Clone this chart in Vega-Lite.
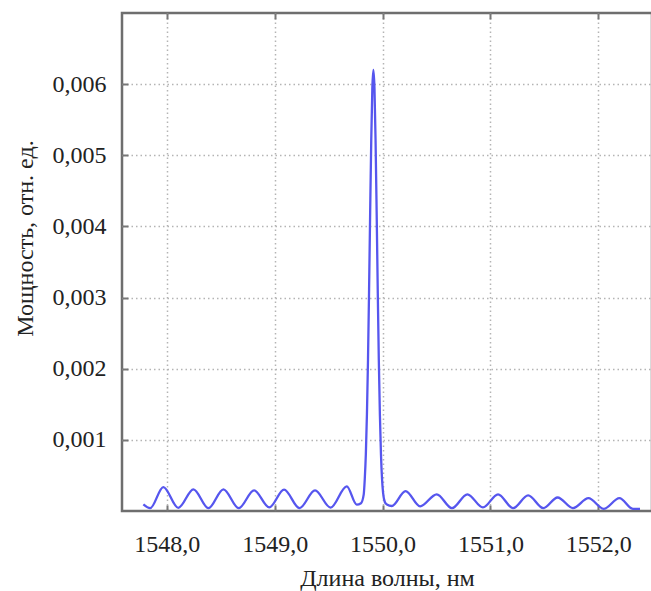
{
  "$schema": "https://vega.github.io/schema/vega-lite/v6.json",
  "width": 530,
  "height": 498,
  "autosize": "none",
  "padding": {"left": 122, "top": 13, "right": 0, "bottom": 80},
  "background": "white",
  "config": {
    "view": {"stroke": "#6e6e6e", "strokeWidth": 2.5},
    "font": "Liberation Serif, serif"
  },
  "data": {
    "values": [
      {"wl": 1547.783, "p": 0.000094},
      {"wl": 1547.846, "p": 0.00004},
      {"wl": 1547.968, "p": 0.000337},
      {"wl": 1548.107, "p": 0.000045},
      {"wl": 1548.247, "p": 0.000305},
      {"wl": 1548.386, "p": 0.00004},
      {"wl": 1548.525, "p": 0.000305},
      {"wl": 1548.667, "p": 0.00004},
      {"wl": 1548.809, "p": 0.00029},
      {"wl": 1548.95, "p": 0.00005},
      {"wl": 1549.087, "p": 0.0003},
      {"wl": 1549.23, "p": 0.00004},
      {"wl": 1549.374, "p": 0.00029},
      {"wl": 1549.518, "p": 0.000048},
      {"wl": 1549.668, "p": 0.000347},
      {"wl": 1549.76, "p": 0.00009},
      {"wl": 1549.8, "p": 0.00011},
      {"wl": 1549.825, "p": 0.00023},
      {"wl": 1549.835, "p": 0.00045},
      {"wl": 1549.845, "p": 0.0008},
      {"wl": 1549.855, "p": 0.00136},
      {"wl": 1549.865, "p": 0.00213},
      {"wl": 1549.875, "p": 0.00312},
      {"wl": 1549.885, "p": 0.00421},
      {"wl": 1549.895, "p": 0.00521},
      {"wl": 1549.905, "p": 0.00594},
      {"wl": 1549.915, "p": 0.0062},
      {"wl": 1549.925, "p": 0.00594},
      {"wl": 1549.935, "p": 0.00521},
      {"wl": 1549.945, "p": 0.00421},
      {"wl": 1549.955, "p": 0.00312},
      {"wl": 1549.965, "p": 0.00213},
      {"wl": 1549.975, "p": 0.00136},
      {"wl": 1549.985, "p": 0.0008},
      {"wl": 1549.995, "p": 0.00045},
      {"wl": 1550.005, "p": 0.00025},
      {"wl": 1550.02, "p": 0.00013},
      {"wl": 1550.04, "p": 0.00009},
      {"wl": 1550.085, "p": 0.00007},
      {"wl": 1550.213, "p": 0.00028},
      {"wl": 1550.348, "p": 0.000066},
      {"wl": 1550.502, "p": 0.000235},
      {"wl": 1550.643, "p": 0.00004},
      {"wl": 1550.786, "p": 0.000235},
      {"wl": 1550.93, "p": 0.00005},
      {"wl": 1551.07, "p": 0.000235},
      {"wl": 1551.21, "p": 0.00004},
      {"wl": 1551.349, "p": 0.00022},
      {"wl": 1551.49, "p": 0.00004},
      {"wl": 1551.622, "p": 0.00019},
      {"wl": 1551.765, "p": 0.00004},
      {"wl": 1551.908, "p": 0.00018},
      {"wl": 1552.05, "p": 0.00003},
      {"wl": 1552.195, "p": 0.00018},
      {"wl": 1552.32, "p": 0.00003},
      {"wl": 1552.386, "p": 0.00003}
    ]
  },
  "layer": [
    {
      "mark": {"type": "line", "interpolate": "monotone", "color": "#5656ee", "strokeWidth": 2.3},
      "encoding": {
        "x": {
          "field": "wl", "type": "quantitative",
          "scale": {"domain": [1547.585, 1552.497], "nice": false, "zero": false},
          "axis": {
            "values": [1548, 1549, 1550, 1551, 1552],
            "labelExpr": "replace(format(datum.value, '.1f'), '.', ',')",
            "labelFontSize": 24, "labelColor": "#222", "labelPadding": 27, "labelFont": "Liberation Serif, serif",
            "labelFlush": false, "labelOverlap": false, "labelBound": false, "labelDx": 5,
            "domain": false,
            "ticks": true, "tickSize": -6, "tickColor": "#777", "tickWidth": 2,
            "grid": true, "gridColor": "#b4b4b4", "gridDash": [1.5, 3], "gridWidth": 1.5,
            "title": "Длина волны, нм", "titleFont": "Liberation Serif, serif", "titleFontSize": 24,
            "titleFontWeight": "normal", "titleColor": "#222", "titlePadding": 10
          }
        },
        "y": {
          "field": "p", "type": "quantitative",
          "scale": {"domain": [0, 0.007], "nice": false},
          "axis": {
            "values": [0.001, 0.002, 0.003, 0.004, 0.005, 0.006],
            "labelExpr": "replace(format(datum.value, '.3f'), '.', ',')",
            "labelFontSize": 24, "labelColor": "#222", "labelPadding": 22, "labelFont": "Liberation Serif, serif",
            "labelFlush": false, "labelOverlap": false, "labelBound": false,
            "domain": false,
            "ticks": true, "tickSize": -6, "tickColor": "#777", "tickWidth": 2,
            "grid": true, "gridColor": "#b4b4b4", "gridDash": [1.5, 3], "gridWidth": 1.5,
            "title": "Мощность, отн. ед.", "titleFont": "Liberation Serif, serif", "titleFontSize": 24,
            "titleFontWeight": "normal", "titleColor": "#222",
            "titleAngle": -90, "titleX": -97, "titleY": 225, "titleAlign": "center", "titleBaseline": "middle"
          }
        }
      }
    },
    {
      "mark": {"type": "point", "opacity": 0},
      "encoding": {
        "x": {
          "field": "wl", "type": "quantitative",
          "axis": {
            "orient": "top", "values": [1548, 1549, 1550, 1551, 1552],
            "labels": false, "domain": false, "grid": false, "title": null,
            "ticks": true, "tickSize": -6, "tickColor": "#777", "tickWidth": 2
          }
        }
      }
    }
  ],
  "resolve": {"axis": {"x": "independent"}}
}
